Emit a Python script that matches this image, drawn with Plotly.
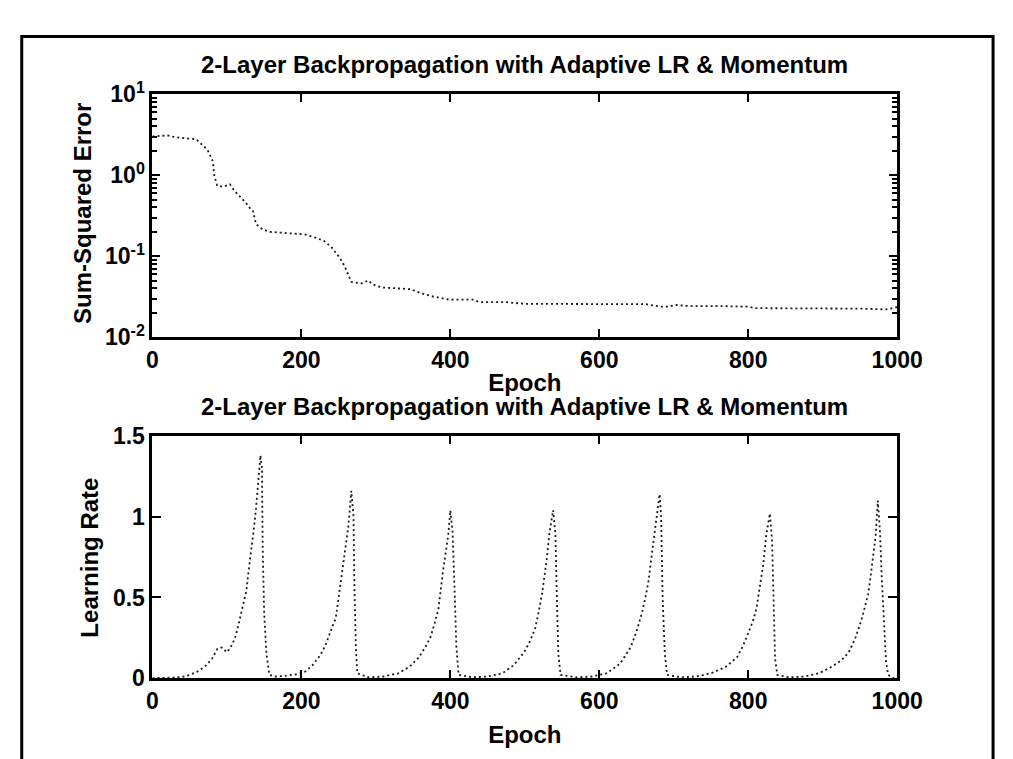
import plotly.graph_objects as go

# ---- data ----
sse_epoch = [0, 10, 20, 30, 40, 50, 59, 66, 74, 78, 81, 83, 87, 95, 100, 104, 110, 117, 125, 131,
             135, 139, 146, 156, 170, 185, 204, 218, 230, 240, 252, 258, 263, 267, 280, 290, 295,
             308, 330, 347, 360, 375, 399, 430, 440, 475, 500, 560, 600, 663, 682, 693, 703, 720,
             760, 800, 810, 860, 900, 950, 985, 1000]
sse_value = [3.0, 3.05, 3.1, 2.95, 2.9, 2.85, 2.76, 2.4, 2.05, 1.7, 1.48, 0.98, 0.74, 0.72, 0.75,
             0.77, 0.64, 0.55, 0.46, 0.39, 0.36, 0.25, 0.22, 0.2, 0.195, 0.19, 0.186, 0.17, 0.155,
             0.13, 0.094, 0.075, 0.059, 0.048, 0.046, 0.05, 0.045, 0.041, 0.040, 0.039, 0.035,
             0.032, 0.029, 0.029, 0.027, 0.027, 0.0258, 0.0256, 0.0256, 0.0255, 0.0238, 0.0238,
             0.025, 0.0242, 0.0242, 0.0238, 0.0228, 0.0227, 0.0227, 0.0225, 0.022, 0.0235]

lr_epoch = [0, 10, 20, 30, 40, 50, 60, 70, 80, 87, 93, 100, 106, 111, 117, 120, 126, 130, 133, 136,
            139, 142, 145, 147, 148, 150, 153, 157,
            165, 180, 195, 205, 215, 225, 232, 240, 246, 250, 254, 258, 263, 267, 270, 271, 273, 275,
            290, 310, 330, 345, 358, 366, 373, 379, 384, 390, 394, 397, 400, 403, 406, 408, 411,
            430, 450, 470, 485, 499, 507, 514, 519, 523, 529, 533, 538, 541, 543, 545, 548,
            570, 590, 610, 628, 642, 650, 657, 662, 666, 672, 676, 681, 683, 685, 688, 691,
            710, 730, 750, 770, 785, 793, 800, 806, 811, 816, 820, 824, 829, 832, 834, 836, 839,
            855, 875, 895, 912, 925, 935, 944, 952, 957, 961, 964, 967, 971, 974, 977, 979, 981,
            983, 985, 988, 995, 1000]
lr_value = [0.0, 0.0, 0.002, 0.004, 0.008, 0.02, 0.04, 0.07, 0.12, 0.18, 0.19, 0.16, 0.2, 0.25, 0.36,
            0.42, 0.54, 0.70, 0.8, 0.92, 1.05, 1.2, 1.38, 1.3, 0.8, 0.4, 0.15, 0.02,
            0.01, 0.015, 0.025, 0.04, 0.08, 0.14, 0.2, 0.3, 0.37, 0.5, 0.64, 0.78, 0.94, 1.16, 1.0,
            0.6, 0.2, 0.03,
            0.005, 0.01, 0.03, 0.07, 0.13, 0.19, 0.25, 0.34, 0.43, 0.66, 0.78, 0.88, 1.04, 0.9, 0.5,
            0.2, 0.02,
            0.005, 0.01, 0.03, 0.08, 0.16, 0.23, 0.31, 0.42, 0.52, 0.72, 0.9, 1.04, 0.9, 0.5, 0.15,
            0.02,
            0.005, 0.01, 0.03, 0.09, 0.19, 0.29, 0.40, 0.5, 0.6, 0.82, 0.96, 1.14, 1.0, 0.5, 0.15,
            0.02,
            0.005, 0.01, 0.03, 0.07, 0.13, 0.2, 0.28, 0.35, 0.43, 0.57, 0.7, 0.88, 1.02, 0.85, 0.45,
            0.12, 0.02,
            0.005, 0.01, 0.03, 0.07, 0.11, 0.16, 0.25, 0.36, 0.44, 0.52, 0.62, 0.72, 0.88, 1.1, 0.9,
            0.65, 0.45, 0.25, 0.1, 0.02, 0.0, 0.0]

x_ticks = [0, 200, 400, 600, 800, 1000]
log_tickvals = [0.01, 0.1, 1, 10]
log_ticktext = ["10<sup>-2</sup>", "10<sup>-1</sup>", "10<sup>0</sup>", "10<sup>1</sup>"]
lr_ticks = [0, 0.5, 1, 1.5]
lr_ticktext = ["0", "0.5", "1", "1.5"]
title_text = "2-Layer Backpropagation with Adaptive LR & Momentum"
top_ylabel = "Sum-Squared Error"
bottom_ylabel = "Learning Rate"
xlabel = "Epoch"

# ---- figure ----
W, H = 1013, 759
FONT = "Liberation Sans, Arial, sans-serif"

def px_x(p):
    return p / W

def px_y(p):
    return 1 - p / H

def bold(s):
    return "<b>" + s + "</b>"

fig = go.Figure()
fig.add_trace(go.Scatter(x=sse_epoch, y=sse_value, mode="lines",
                         line=dict(color="#1a1a1a", width=1.8, dash="2px,3px"),
                         xaxis="x", yaxis="y", showlegend=False))
fig.add_trace(go.Scatter(x=lr_epoch, y=lr_value, mode="lines",
                         line=dict(color="#1a1a1a", width=1.8, dash="2px,3px"),
                         xaxis="x2", yaxis="y2", showlegend=False))

axis_common = dict(showline=True, linecolor="black", linewidth=3, mirror="ticks",
                   ticks="inside", tickcolor="black", tickwidth=2, showgrid=False,
                   zeroline=False, tickfont=dict(family=FONT, size=23, color="black"))

label_font = dict(family=FONT, size=24, color="black")

fig.update_layout(
    width=W, height=H,
    margin=dict(l=0, r=0, t=0, b=0),
    paper_bgcolor="white", plot_bgcolor="white",
    font=dict(family=FONT, color="black"),
    xaxis=dict(domain=[px_x(143), px_x(912)], anchor="y", range=[0, 1000],
               tickvals=x_ticks, ticktext=[bold(str(v)) for v in x_ticks], ticklen=8,
               title=dict(text=bold(xlabel), font=label_font, standoff=3),
               **axis_common),
    yaxis=dict(domain=[px_y(325), px_y(72)], anchor="x", type="log", range=[-2, 1],
               tickvals=log_tickvals, ticktext=[bold(t) for t in log_ticktext], ticklen=8,
               minor=dict(ticks="inside", ticklen=5, tickwidth=2, tickcolor="black",
                          dtick="D1", showgrid=False),
               **axis_common),
    xaxis2=dict(domain=[px_x(143), px_x(912)], anchor="y2", range=[0, 1000],
                tickvals=x_ticks, ticktext=[bold(str(v)) for v in x_ticks], ticklen=8,
                title=dict(text=bold(xlabel), font=label_font, standoff=14),
                **axis_common),
    yaxis2=dict(domain=[px_y(680), px_y(428)], anchor="x2", range=[0, 1.5],
                tickvals=lr_ticks, ticktext=[bold(t) for t in lr_ticktext], ticklen=9,
                **axis_common),
    annotations=[
        dict(text=bold(title_text), x=(px_x(143) + px_x(912)) / 2, y=px_y(41), xref="paper",
             yref="paper", showarrow=False, xanchor="center", yanchor="middle",
             font=dict(family=FONT, size=24, color="black")),
        dict(text=bold(title_text), x=(px_x(143) + px_x(912)) / 2, y=px_y(397), xref="paper",
             yref="paper", showarrow=False, xanchor="center", yanchor="middle",
             font=dict(family=FONT, size=24, color="black")),
        dict(text=bold(top_ylabel), x=px_x(70), y=px_y(196), xref="paper", yref="paper",
             showarrow=False, textangle=-90, xanchor="center", yanchor="middle",
             font=label_font),
        dict(text=bold(bottom_ylabel), x=px_x(77), y=px_y(555), xref="paper", yref="paper",
             showarrow=False, textangle=-90, xanchor="center", yanchor="middle",
             font=label_font),
    ],
    shapes=[
        dict(type="rect", xref="paper", yref="paper", x0=px_x(8), x1=px_x(1011),
             y0=-0.02, y1=px_y(12), line=dict(color="black", width=3)),
    ],
)

fig.write_html("out.html")
